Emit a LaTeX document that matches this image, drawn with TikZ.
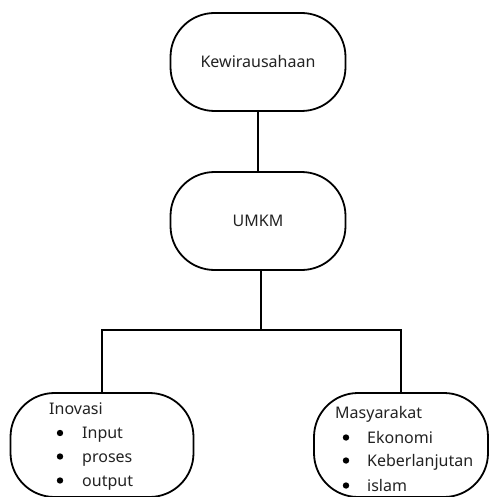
\documentclass[tikz,border=0pt]{standalone}
\usepackage{fontspec}
\setmainfont{Noto Sans}
\definecolor{txt}{HTML}{222222}
\begin{document}
\begin{tikzpicture}[x=1pt,y=-1pt,
  box/.style={draw=black,line width=1.8pt,rounded corners=44pt,inner sep=0pt},
  lbl/.style={text=txt,font=\fontsize{16}{20}\selectfont,inner sep=0pt},
  item/.style={lbl,anchor=base west},
  conn/.style={line width=1.8pt}]
\useasboundingbox (0,0) rectangle (489,497);
\node[box,minimum width=175pt,minimum height=98pt] (top) at (258,62) {};
\node[lbl] (toptxt) at (top.center) {Kewirausahaan};
\node[box,minimum width=175pt,minimum height=98pt] (umkm) at (258,221) {};
\node[lbl] (umkmtxt) at (umkm.center) {UMKM};
\node[box,minimum width=183pt,minimum height=104pt] (left) at (102,445) {};
\node[box,minimum width=174pt,minimum height=104pt] (right) at (401,445) {};
\coordinate (j) at (261,330);
\draw[conn] (top.south) -- (umkm.north);
\draw[conn] (umkm.south -| j) -- (j);
\draw[conn] (left.north) |- (j) -| (right.north);
% left list
\node[item] (l0) at (49,414) {Inovasi};
\node[item] (l1) at (82,438.5) {Input};
\node[item] (l2) at (82,462) {proses};
\node[item] (l3) at (82,486) {output};
\foreach \yy in {433,456.5,480.5} \fill[black] (60,\yy) circle (3.2pt);
% right list
\node[item] (r0) at (335,418) {Masyarakat};
\node[item] (r1) at (367,443) {Ekonomi};
\node[item] (r2) at (367,466) {Keberlanjutan};
\node[item] (r3) at (367,491) {islam};
\foreach \yy in {437.5,460.5,485.5} \fill[black] (346,\yy) circle (3.2pt);
\end{tikzpicture}
\end{document}
